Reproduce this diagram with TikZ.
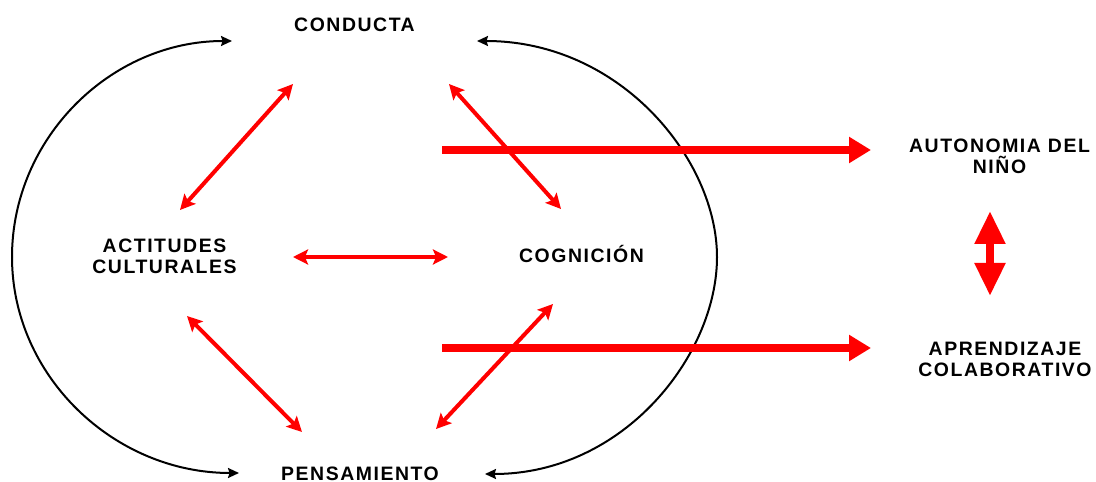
\documentclass[tikz,border=0pt]{standalone}
\usepackage{fontspec}
\setmainfont{Liberation Sans}
\newfontfamily\lblfont[LetterSpace=8]{Liberation Sans}
\usetikzlibrary{arrows.meta}
\begin{document}
\begin{tikzpicture}[x=1bp,y=-1bp,
  lbl/.style={font=\lblfont\bfseries\fontsize{19.5}{21}\selectfont, inner sep=0pt, align=center, text=black},
  redlink/.style={draw=red, line width=4bp, {Stealth[length=15bp,width=15bp,inset=3bp]}-{Stealth[length=15bp,width=15bp,inset=3bp]}},
  cycle/.style={draw=black, line width=2bp, -{Stealth[length=11bp,width=10bp,inset=1.5bp]}},
  bigarrow/.style={draw=red, line width=8.5bp, -{Triangle[length=22bp,width=25bp]}},
  dblarrow/.style={draw=red, line width=8bp, {Triangle[length=33bp,width=29bp]}-{Triangle[length=33bp,width=29bp]}}]
\useasboundingbox (0,0) rectangle (1096,482);

% labels
\node[lbl, anchor=base]  (cond) at (354.5,32)  {CONDUCTA};
\node[lbl, anchor=north] (act)  at (164.5,239) {ACTITUDES\\CULTURALES};
\node[lbl, anchor=base]  (cog)  at (581.5,263) {COGNICIÓN};
\node[lbl, anchor=base]  (pens) at (360,480)   {PENSAMIENTO};
\node[lbl, anchor=north] (auto) at (999.5,139) {AUTONOMIA DEL\\NIÑO};
\node[lbl, anchor=north] (apr)  at (1005,342)  {APRENDIZAJE\\COLABORATIVO};

% arrow end points
\coordinate (ca) at (293,84);   \coordinate (ac) at (180,210);
\coordinate (cc) at (449,84);   \coordinate (gc) at (561,209);
\coordinate (ag) at (293,257);  \coordinate (ga) at (448,257);
\coordinate (ap) at (187,316);  \coordinate (pa) at (302,432);
\coordinate (gp) at (553,304);  \coordinate (pg) at (436,429);
\coordinate (lt) at (232,41);   \coordinate (ll) at (12,257);  \coordinate (lb) at (239,473);
\coordinate (rt) at (477,41);   \coordinate (rr) at (717,257); \coordinate (rb) at (485,474);
\coordinate (b1s) at (442,150); \coordinate (b1e) at (871,150);
\coordinate (b2s) at (442,348); \coordinate (b2e) at (871,348);
\coordinate (vt) at (990,211);  \coordinate (vb) at (990,296);

% black cycle arcs
\draw[cycle] (ll) .. controls (12,138) and (111,41) .. (lt);
\draw[cycle] (ll) .. controls (12,376) and (114,473) .. (lb);
\draw[cycle] (rr) .. controls (717,160) and (621,41) .. (rt);
\draw[cycle] (rr) .. controls (717,355) and (624,474) .. (rb);

% big arrows
\draw[bigarrow] (b1s) -- (b1e);
\draw[bigarrow] (b2s) -- (b2e);
\draw[dblarrow] (vt) -- (vb);

% red double arrows
\draw[redlink] (ca) -- (ac);
\draw[redlink] (cc) -- (gc);
\draw[redlink] (ag) -- (ga);
\draw[redlink] (ap) -- (pa);
\draw[redlink] (gp) -- (pg);
\end{tikzpicture}
\end{document}
